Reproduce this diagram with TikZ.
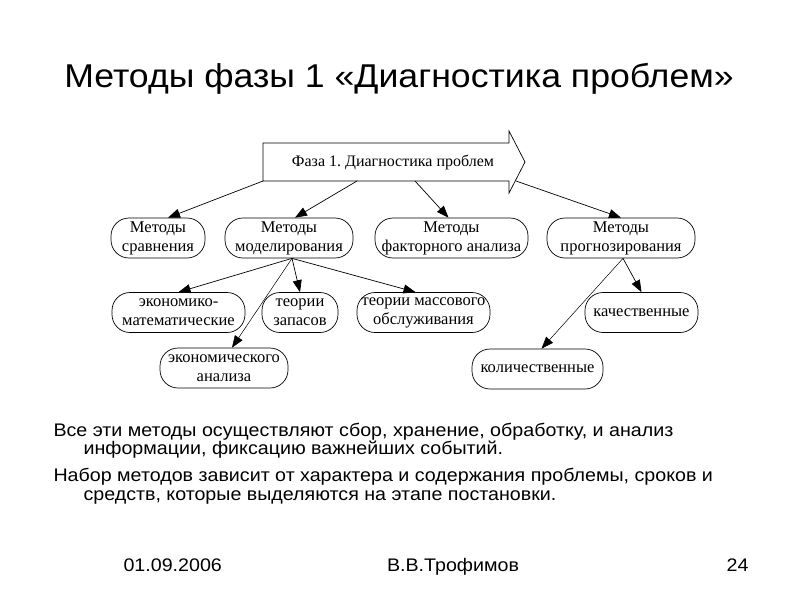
\documentclass[tikz,border=0pt]{standalone}
\usepackage{fontspec}
\setmainfont{Liberation Serif}
\newfontfamily\slidefont[FakeStretch=1.08]{Liberation Sans}
\usetikzlibrary{arrows.meta}

\begin{document}
\begin{tikzpicture}[x=1pt,y=1pt,line cap=round,
  meth/.style={draw,line width=0.7pt,rounded corners=18pt,minimum height=40pt,inner sep=0pt,
    align=center,font=\fontsize{16.5}{19}\selectfont},
  link/.style={-{Triangle[length=12pt,width=9pt]},line width=0.7pt},
  slide/.style={font=\slidefont\fontsize{18.2}{19}\selectfont}]
  \useasboundingbox[fill=white] (0,-600) rectangle (800,0);

  \node[font=\slidefont\fontsize{33}{36}\selectfont,anchor=base] (title) at (399,-87)
    {Методы фазы 1 «Диагностика проблем»};

  \draw[line width=0.7pt] (263,-143) -- (509,-143) -- (509,-131) -- (525,-162) -- (509,-193)
    -- (509,-181) -- (263,-181) -- cycle;
  \node[font=\fontsize{16}{19}\selectfont] (phase) at (393,-162) {Фаза 1.\ Диагностика проблем};
  \coordinate (p1) at (263,-181);
  \coordinate (p2) at (357,-181);
  \coordinate (p3) at (415,-181);
  \coordinate (p4) at (516,-181);

  \node[meth,minimum width=94pt] (sravn) at (158,-238) {Методы\\сравнения};
  \node[meth,minimum width=128pt] (model) at (289,-238) {Методы\\моделирования};
  \node[meth,minimum width=153pt] (factor) at (451.5,-238) {Методы\\факторного анализа};
  \node[meth,minimum width=148pt] (progn) at (621,-238) {Методы\\прогнозирования};

  \node[meth,minimum width=133pt] (ekmat) at (178.5,-312.5) {экономико-\\математические};
  \node[meth,minimum width=76pt] (zapas) at (300,-312.5) {теории\\запасов};
  \node[meth,minimum width=133pt] (massov) at (423.5,-312.5) {теории массового\\обслуживания};
  \node[meth,minimum width=128pt] (ekanal) at (224,-368) {экономического\\анализа};
  \node[meth,minimum width=113pt] (kach) at (641.5,-312.5) {качественные};
  \node[meth,minimum width=131pt] (kolich) at (537.5,-369) {количественные};

  \draw[link] (p1) -- ([xshift=10pt]sravn.north);
  \draw[link] (p2) -- ([xshift=6pt]model.north);
  \draw[link] (p3) -- ([xshift=-3pt]factor.north);
  \draw[link] (p4) -- (progn.north);
  \draw[link] ([xshift=3pt]model.south) -- (ekmat.north);
  \draw[link] ([xshift=3pt]model.south) -- (zapas.north);
  \draw[link] ([xshift=3pt]model.south) -- ([xshift=-8pt]massov.north);
  \draw[link,line width=0.5pt] ([xshift=3pt]model.south) -- ([xshift=8pt]ekanal.north);
  \draw[link] ([xshift=2pt]progn.south) -- (kach.north);
  \draw[link,line width=0.5pt] ([xshift=2pt]progn.south) -- ([xshift=4pt]kolich.north);

  \node[slide,anchor=base west] (note1) at (50,-436)
    {Все эти методы осуществляют сбор, хранение, обработку, и анализ};
  \node[slide,anchor=base west] (note2) at (80,-454)
    {информации, фиксацию важнейших событий.};
  \node[slide,anchor=base west] (note3) at (50,-481)
    {Набор методов зависит от характера и содержания проблемы, сроков и};
  \node[slide,anchor=base west] (note4) at (80,-500)
    {средств, которые выделяются на этапе постановки.};

  \node[slide,anchor=base west] (date) at (120,-571) {01.09.2006};
  \node[slide,anchor=base] (author) at (453,-571) {В.В.Трофимов};
  \node[slide,anchor=base east] (page) at (752,-571) {24};
\end{tikzpicture}
\end{document}
